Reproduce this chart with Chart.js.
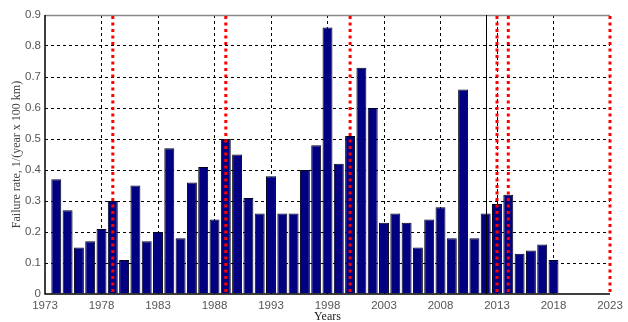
<!DOCTYPE html>
<html><head><meta charset="utf-8">
<script src="https://cdn.jsdelivr.net/npm/chart.js@4/dist/chart.umd.min.js"></script>
<style>html,body{margin:0;padding:0;background:#fff}#wrap{width:628px;height:322px}</style>
</head><body><div id="wrap"><canvas id="c" width="628" height="322"></canvas></div>
<script>
const years = [1974,1975,1976,1977,1978,1979,1980,1981,1982,1983,1984,1985,1986,1987,1988,1989,1990,1991,1992,1993,1994,1995,1996,1997,1998,1999,2000,2001,2002,2003,2004,2005,2006,2007,2008,2009,2010,2011,2012,2013,2014,2015,2016,2017,2018];
const failureRate = [0.37,0.27,0.15,0.17,0.21,0.30,0.11,0.35,0.17,0.20,0.47,0.18,0.36,0.41,0.24,0.50,0.45,0.31,0.26,0.38,0.26,0.26,0.40,0.48,0.86,0.42,0.51,0.73,0.60,0.23,0.26,0.23,0.15,0.24,0.28,0.18,0.66,0.18,0.26,0.29,0.32,0.13,0.14,0.16,0.11];
const redLineYears = [1979,1989,2000,2013,2014,2023];
const blackLineYears = [2012];
const xTicks = [1973,1978,1983,1988,1993,1998,2003,2008,2013,2018,2023];
const yTicks = [0,0.1,0.2,0.3,0.4,0.5,0.6,0.7,0.8,0.9];

const overlay = {
  id:'overlay',
  afterDatasetsDraw(chart){
    const {ctx, chartArea:a, scales:{x,y}} = chart;
    ctx.save();
    ctx.setLineDash([]);
    ctx.lineWidth = 1.5;
    ctx.strokeStyle = '#888';
    ctx.beginPath(); ctx.moveTo(a.left, a.top+0.5); ctx.lineTo(a.right, a.top+0.5); ctx.stroke();
    ctx.strokeStyle = '#000';
    ctx.beginPath(); ctx.moveTo(a.left, a.top); ctx.lineTo(a.left, a.bottom); ctx.lineTo(a.right, a.bottom); ctx.stroke();
    ctx.lineWidth = 1;
    blackLineYears.forEach(v=>{
      const px = Math.round(x.getPixelForValue(v))+0.5;
      ctx.beginPath(); ctx.moveTo(px,a.top); ctx.lineTo(px,a.bottom); ctx.stroke();
    });
    ctx.strokeStyle = '#ff0000';
    ctx.lineWidth = 3;
    ctx.setLineDash([3,3.5]);
    redLineYears.forEach(v=>{
      const px = x.getPixelForValue(v);
      ctx.beginPath(); ctx.moveTo(px,a.top+1); ctx.lineTo(px,a.bottom); ctx.stroke();
    });
    ctx.restore();
  }
};

new Chart(document.getElementById('c'), {
  type:'bar',
  data:{
    datasets:[{
      data: years.map((yr,i)=>({x:yr, y:failureRate[i]})),
      backgroundColor:'#000080',
      borderColor:'#00001a',
      borderWidth:1,
      barPercentage:0.88,
      categoryPercentage:1.0
    }]
  },
  options:{
    responsive:false,
    animation:false,
    devicePixelRatio:1,
    layout:{padding:{top:15,right:18,left:0,bottom:0}},
    plugins:{legend:{display:false},tooltip:{enabled:false}},
    scales:{
      x:{
        type:'linear', min:1973, max:2023, offset:false,
        afterBuildTicks(s){ s.ticks = xTicks.map(v=>({value:v})); },
        afterFit(s){ s.height = 28; },
        grid:{offset:false, color:(c)=> (c.tick && (c.tick.value===1973||c.tick.value===2023)) ? 'rgba(0,0,0,0)' : '#000', lineWidth:1, drawTicks:false},
        border:{display:false, dash:[3,3]},
        ticks:{color:'#555', font:{family:'Liberation Sans', size:11.5}, padding:5, maxRotation:0, autoSkip:false, callback:v=>String(v)},
        title:{display:true, text:'Years', color:'#222', font:{family:'Liberation Serif', size:12}, padding:{top:0,bottom:-2}}
      },
      y:{
        min:0, max:0.9,
        afterBuildTicks(s){ s.ticks = yTicks.map(v=>({value:v})); },
        afterFit(s){ s.width = 45; },
        grid:{color:(c)=> (c.tick && (c.tick.value===0||c.tick.value===0.9)) ? 'rgba(0,0,0,0)' : '#000', lineWidth:1, drawTicks:false},
        border:{display:false, dash:[3,3]},
        ticks:{color:'#555', font:{family:'Liberation Sans', size:11.5}, padding:4, callback:v=>(v===0?'0':String(Math.round(v*10)/10))},
        title:{display:true, text:'Failure rate, 1/(year x 100 km)', color:'#444', font:{family:'Liberation Serif', size:12}, padding:{top:10,bottom:2}}
      }
    }
  },
  plugins:[overlay]
});
</script>
</body></html>
